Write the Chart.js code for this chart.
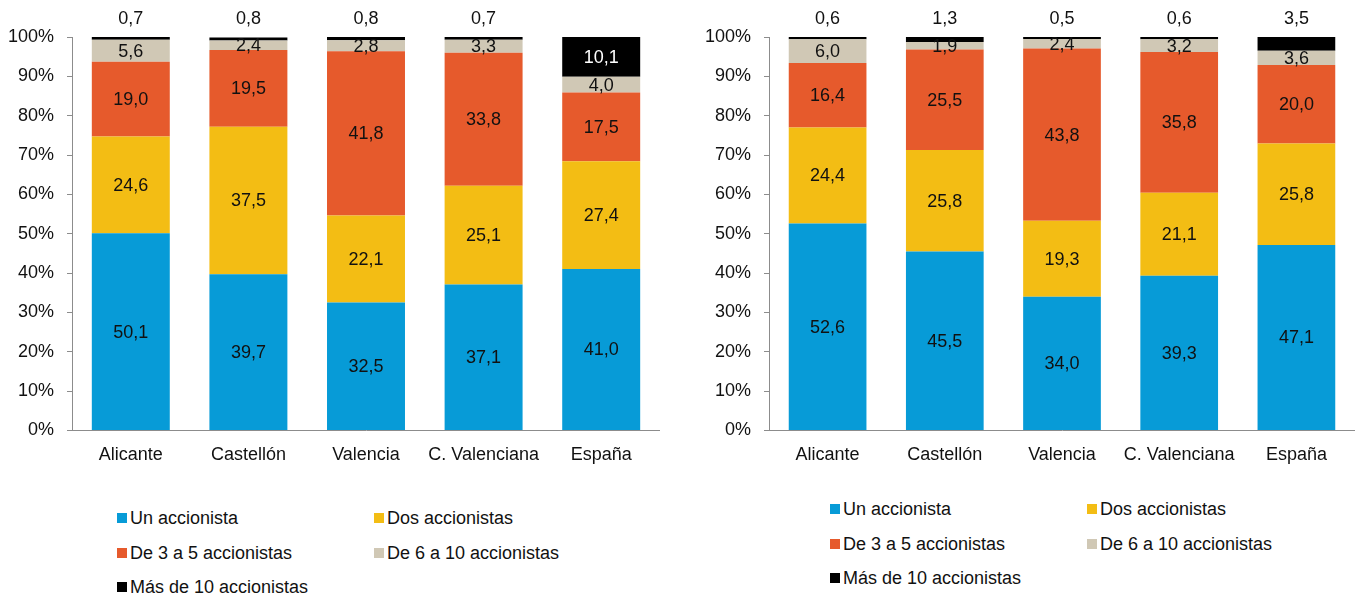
<!DOCTYPE html>
<html>
<head>
<meta charset="utf-8">
<script src="https://cdn.jsdelivr.net/npm/chart.js@4/dist/chart.umd.min.js"></script>
<style>
  body { margin: 0; background: #fff; width: 1355px; height: 596px; overflow: hidden; position: relative; font-family: Arial, "Liberation Sans", sans-serif; }
  .box { position: absolute; top: 0; height: 480px; }
  #boxA { left: 0; width: 660px; }
  #boxB { left: 697px; width: 658px; }
  .legend { position: absolute; font-size: 18px; color: #111; }
  .legend .item { position: absolute; white-space: nowrap; line-height: 20px; }
  .legend .sw { display: inline-block; width: 10px; height: 10px; margin-right: 3px; vertical-align: 1px; }
</style>
</head>
<body>
<div class="box" id="boxA"><canvas id="chartA"></canvas></div>
<div class="box" id="boxB"><canvas id="chartB"></canvas></div>
<div class="legend" id="legendA"></div>
<div class="legend" id="legendB"></div>
<script>
// categorías y series
const categories = ['Alicante', 'Castellón', 'Valencia', 'C. Valenciana', 'España'];
const seriesNames = ['Un accionista', 'Dos accionistas', 'De 3 a 5 accionistas', 'De 6 a 10 accionistas', 'Más de 10 accionistas'];
const seriesColors = ['#079BD7', '#F3BD14', '#E65A2C', '#D0C8B5', '#000000'];
const yTicks = [0, 10, 20, 30, 40, 50, 60, 70, 80, 90, 100];

// gráfico izquierdo
const unoA = [50.1, 39.7, 32.5, 37.1, 41.0];
const dosA = [24.6, 37.5, 22.1, 25.1, 27.4];
const tresA = [19.0, 19.5, 41.8, 33.8, 17.5];
const seisA = [5.6, 2.4, 2.8, 3.3, 4.0];
const masA = [0.7, 0.8, 0.8, 0.7, 10.1];

// gráfico derecho
const unoB = [52.6, 45.5, 34.0, 39.3, 47.1];
const dosB = [24.4, 25.8, 19.3, 21.1, 25.8];
const tresB = [16.4, 25.5, 43.8, 35.8, 20.0];
const seisB = [6.0, 1.9, 2.4, 3.2, 3.6];
const masB = [0.6, 1.3, 0.5, 0.6, 3.5];

const FONT = 'Arial, "Liberation Sans", sans-serif';
const fmt = v => v.toFixed(1).replace('.', ',');

// etiquetas de datos dibujadas a mano
const labelsPlugin = {
  id: 'barLabels',
  afterDatasetsDraw(chart) {
    const ctx = chart.ctx;
    ctx.save();
    ctx.font = '18px ' + FONT;
    ctx.textAlign = 'center';
    ctx.textBaseline = 'middle';
    const last = chart.data.datasets.length - 1;
    chart.data.datasets.forEach((ds, i) => {
      const meta = chart.getDatasetMeta(i);
      meta.data.forEach((bar, j) => {
        const v = ds.data[j];
        let y = (bar.y + bar.base) / 2;
        ctx.fillStyle = '#111';
        if (i === last) {
          if (v < 5) {
            y = bar.y - 19;
          } else {
            ctx.fillStyle = '#fff';
          }
        }
        ctx.fillText(fmt(v), bar.x, y + 1);
      });
    });
    ctx.restore();
  }
};

function makeChart(id, arrays) {
  const ctx = document.getElementById(id).getContext('2d');
  return new Chart(ctx, {
    type: 'bar',
    data: {
      labels: categories,
      datasets: arrays.map((d, i) => ({
        label: seriesNames[i],
        data: d,
        backgroundColor: seriesColors[i],
        borderWidth: 0,
        barPercentage: 0.663,
        categoryPercentage: 1.0
      }))
    },
    options: {
      responsive: true,
      maintainAspectRatio: false,
      animation: false,
      layout: { padding: { top: 37, bottom: 8, left: 0, right: 0 } },
      plugins: { legend: { display: false }, tooltip: { enabled: false } },
      scales: {
        x: {
          stacked: true,
          grid: { display: false },
          border: { color: '#8c8c8c', width: 1 },
          ticks: { color: '#111', font: { size: 18, family: FONT }, padding: 6, maxRotation: 0 }
        },
        y: {
          stacked: true,
          min: 0,
          max: 100,
          afterBuildTicks: scale => { scale.ticks = yTicks.map(v => ({ value: v })); },
          afterFit: scale => { scale.width = 72; },
          grid: { drawOnChartArea: false, drawTicks: true, tickLength: 5, color: '#8c8c8c' },
          border: { color: '#8c8c8c', width: 1 },
          ticks: {
            color: '#111',
            font: { size: 18, family: FONT },
            padding: 13,
            callback: v => v + '%'
          }
        }
      }
    },
    plugins: [labelsPlugin]
  });
}

makeChart('chartA', [unoA, dosA, tresA, seisA, masA]);
makeChart('chartB', [unoB, dosB, tresB, seisB, masB]);

// leyendas en HTML (dos columnas)
function buildLegend(id, x0, x1, y0) {
  const el = document.getElementById(id);
  seriesNames.forEach((name, i) => {
    const item = document.createElement('div');
    item.className = 'item';
    item.style.left = (i % 2 === 0 ? x0 : x1) + 'px';
    item.style.top = (y0 + Math.floor(i / 2) * 34.5 - 10) + 'px';
    item.innerHTML = '<span class="sw" style="background:' + seriesColors[i] + '"></span>' + name;
    el.appendChild(item);
  });
}
buildLegend('legendA', 117, 374, 518);
buildLegend('legendB', 830, 1087, 509);
</script>
</body>
</html>
